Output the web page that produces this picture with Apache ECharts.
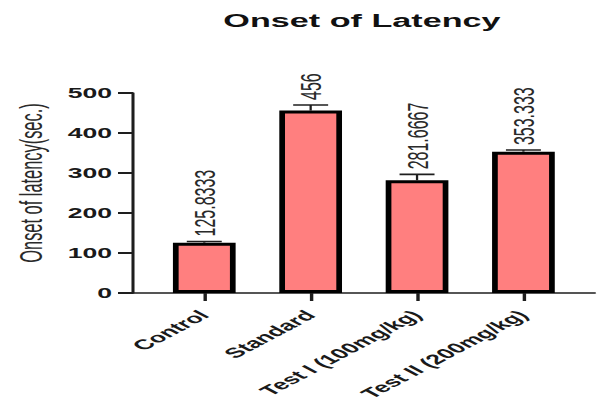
<!DOCTYPE html>
<html>
<head>
<meta charset="utf-8">
<script src="https://cdn.jsdelivr.net/npm/echarts@6/dist/echarts.min.js"></script>
<style>
  html, body { margin: 0; padding: 0; background: #fff; overflow: hidden; }
  #wrap { width: 598px; height: 412px; overflow: hidden; }
  /* the figure is drawn in a narrower box and widened horizontally */
  #chart { width: 314.74px; height: 412px; transform: scaleX(1.9); transform-origin: 0 0; }
</style>
</head>
<body>
<div id="wrap"><div id="chart"></div></div>
<script>
// Onset of latency per group (mean with SEM)
const categories = ['Control', 'Standard', 'Test I (100mg/kg)', 'Test II (200mg/kg)'];
const means = [125.8333, 456, 281.6667, 353.333];
const sem = [3, 14, 15, 4];
const yTicks = [0, 100, 200, 300, 400, 500];
const categoryPositions = categories.map((c, i) => i);

const chart = echarts.init(document.getElementById('chart'), null, { renderer: 'svg' });

const ink = '#1e1e1e';

chart.setOption({
  animation: false,
  title: {
    text: 'Onset of Latency',
    left: 185.5,
    top: 7,
    textAlign: 'center',
    textStyle: { fontFamily: 'Liberation Sans', fontWeight: 'bold', fontSize: 18, color: '#111' }
  },
  graphic: [{
    type: 'text',
    x: 16.3,
    y: 183,
    rotation: Math.PI / 2,
    style: {
      text: 'Onset of latency(sec.)',
      font: '16.4px "Liberation Sans"',
      fill: '#2a2a2a',
      align: 'center',
      verticalAlign: 'middle'
    }
  }],
  grid: { left: 70, right: 2, top: 93, bottom: 119, containLabel: false },
  xAxis: {
    type: 'value',
    min: -0.67,
    max: 3.67,
    splitLine: { show: false },
    axisLine: { show: true, onZero: false, lineStyle: { color: ink, width: 1.6 } },
    axisTick: { show: true, customValues: categoryPositions, length: 8, lineStyle: { color: ink, width: 1.8 } },
    axisLabel: {
      show: true,
      customValues: categoryPositions,
      rotate: 45,
      margin: 20,
      formatter: v => categories[Math.round(v)] || '',
      fontFamily: 'Liberation Sans',
      fontWeight: 'bold',
      fontSize: 14,
      color: '#1a1a1a'
    }
  },
  yAxis: {
    type: 'value',
    min: yTicks[0],
    max: yTicks[yTicks.length - 1],
    interval: 100,
    splitLine: { show: false },
    axisLine: { show: true, onZero: false, lineStyle: { color: ink, width: 1.6 } },
    axisTick: { show: true, length: 7.9, lineStyle: { color: ink, width: 2 } },
    axisLabel: {
      margin: 11,
      fontFamily: 'Liberation Sans',
      fontWeight: 'bold',
      fontSize: 14,
      color: '#1a1a1a'
    }
  },
  series: [
    {
      type: 'bar',
      barWidth: 33,
      data: means.map((v, i) => [i, v]),
      itemStyle: { color: '#ff7f7f', borderColor: '#000', borderWidth: 3 },
      z: 2
    },
    {
      type: 'custom',
      data: means.map((v, i) => [i, v, sem[i]]),
      z: 3,
      renderItem: function (params, api) {
        const x = api.value(0);
        const m = api.value(1);
        const e = api.value(2);
        const base = api.coord([x, m]);
        const top = api.coord([x, m + e]);
        const half = 9.2;
        return {
          type: 'group',
          children: [
            { type: 'line', shape: { x1: base[0], y1: base[1], x2: top[0], y2: top[1] },
              style: { stroke: ink, lineWidth: 1.2 } },
            { type: 'line', shape: { x1: top[0] - half, y1: top[1], x2: top[0] + half, y2: top[1] },
              style: { stroke: ink, lineWidth: 1.6 } },
            { type: 'text', x: top[0], y: top[1] - 5, rotation: Math.PI / 2,
              style: { text: String(m), font: '16px "Liberation Sans"', fill: '#2a2a2a',
                       align: 'left', verticalAlign: 'middle' } }
          ]
        };
      }
    }
  ]
});
</script>
</body>
</html>
